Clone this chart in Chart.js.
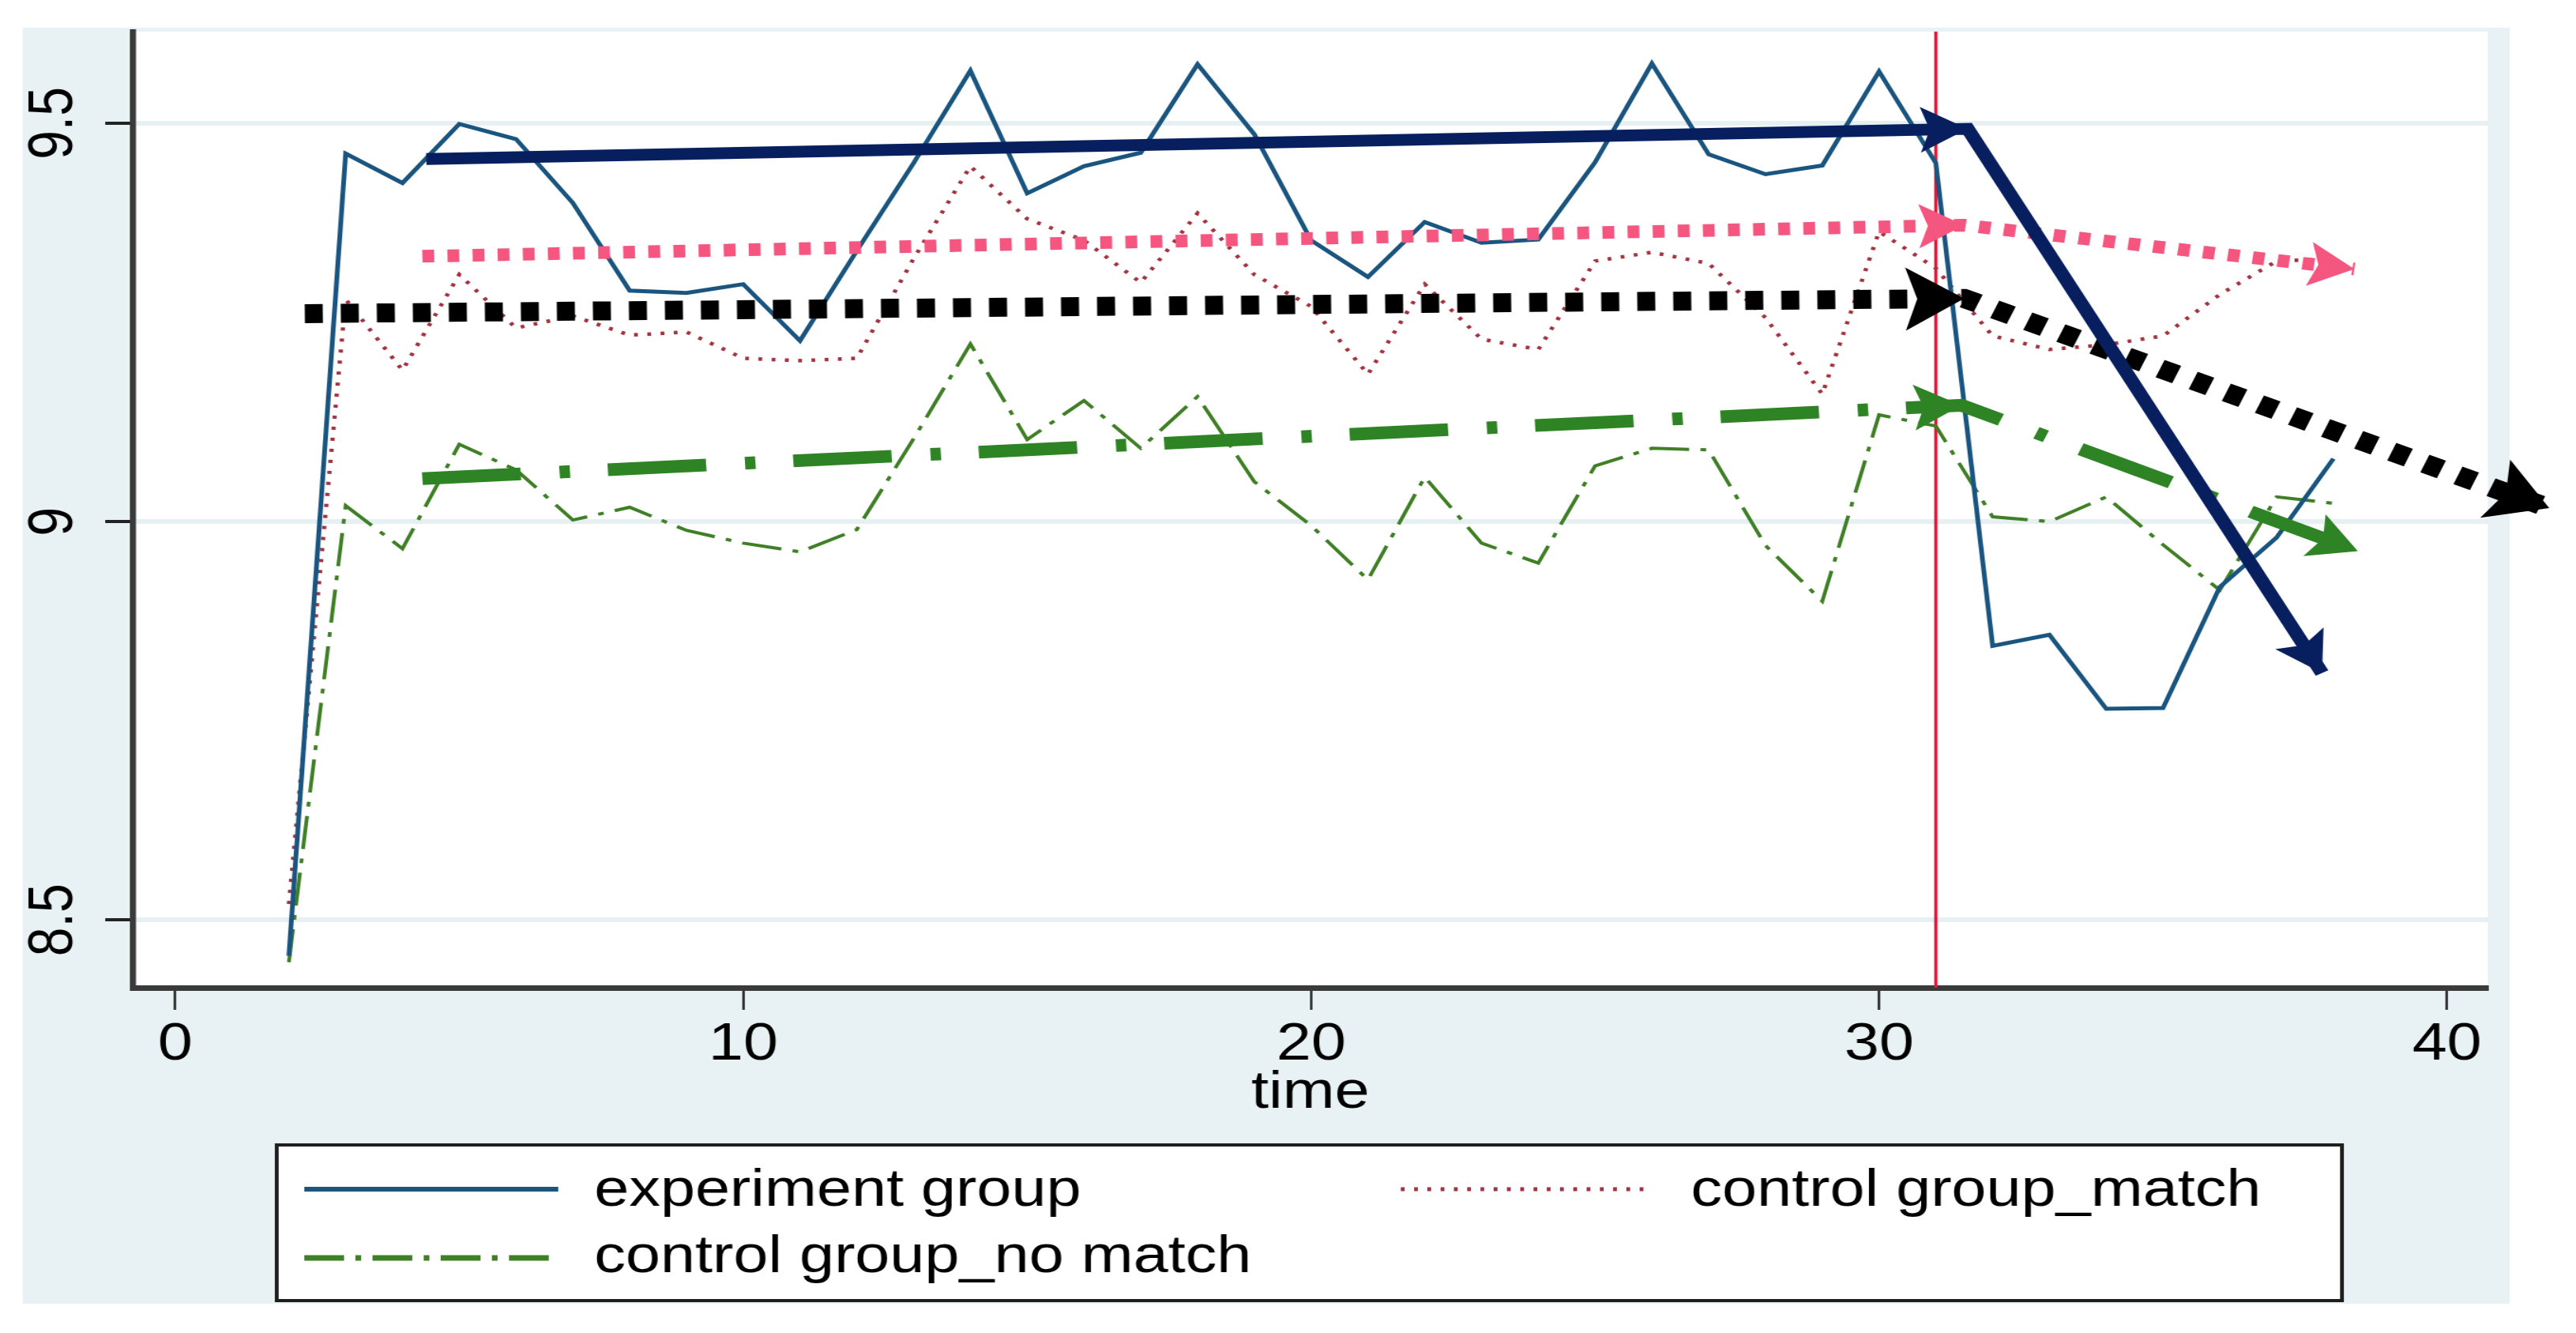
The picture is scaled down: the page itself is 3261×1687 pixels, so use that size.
<!DOCTYPE html>
<html>
<head>
<meta charset="utf-8">
<title>experiment group vs control groups over time</title>
<script src="https://cdn.jsdelivr.net/npm/chart.js@4.4.1/dist/chart.umd.min.js"></script>
<style>
  html, body { margin: 0; padding: 0; background: #fff; overflow: hidden; }
  /* the source picture is stretched ~1.2x sideways, so the canvas is drawn narrow and stretched too */
  #chart { display: block; width: 3261px !important; height: 1687px !important; }
</style>
</head>
<body>
<canvas id="chart" width="2718" height="1687"></canvas>
<script>
// ---------- Data ----------
const time = [2, 3, 4, 5, 6, 7, 8, 9, 10, 11, 12, 13, 14, 15, 16, 17, 18, 19, 20,
  21, 22, 23, 24, 25, 26, 27, 28, 29, 30, 31, 32, 33, 34, 35, 36, 37, 38];

const experimentGroup = [8.455, 9.462, 9.425, 9.499, 9.48, 9.40, 9.29, 9.287, 9.298, 9.227,
  9.34, 9.45, 9.566, 9.412, 9.446, 9.463, 9.574, 9.486, 9.353, 9.307, 9.376, 9.35, 9.354,
  9.451, 9.575, 9.461, 9.436, 9.447, 9.565, 9.45, 8.844, 8.858, 8.765, 8.766, 8.918, 8.98, 9.079];

const controlMatch = [8.52, 9.279, 9.19, 9.31, 9.243, 9.258, 9.234, 9.238, 9.205, 9.202,
  9.205, 9.33, 9.446, 9.38, 9.353, 9.30, 9.387, 9.31, 9.27, 9.185, 9.298, 9.229, 9.216,
  9.327, 9.338, 9.324, 9.256, 9.16, 9.364, 9.318, 9.233, 9.216, 9.222, 9.233, 9.285, 9.327, 9.33];

const controlNoMatch = [8.447, 9.02, 8.966, 9.097, 9.065, 9.002, 9.018, 8.989, 8.973, 8.962,
  8.99, 9.104, 9.223, 9.103, 9.152, 9.092, 9.157, 9.05, 8.995, 8.927, 9.056, 8.973, 8.948,
  9.07, 9.092, 9.09, 8.97, 8.90, 9.134, 9.12, 9.006, 9.0, 9.031, 8.971, 8.914, 9.031, 9.023];

// hand-drawn trend arrows: start, break at the cut-off, end
const trendExperimentX = [4.42, 31.56, 37.8];
const trendExperimentY = [9.455, 9.493, 8.81];
const trendMatchX = [4.35, 31.5, 38.37];
const trendMatchY = [9.333, 9.372, 9.317];
const trendAllX = [2.28, 31.5, 41.8];
const trendAllY = [9.261, 9.28, 9.017];
const trendNoMatchX = [4.35, 31.45, 38.43];
const trendNoMatchY = [9.054, 9.146, 8.963];

const cutoffTime = 31;

const xTickValues = [0, 10, 20, 30, 40];
const yTickValues = [8.5, 9, 9.5];
const xRange = [-0.75, 40.72];
const yRange = [8.415, 9.615];

const legendLabels = ["experiment group", "control group_match", "control group_no match"];

// ---------- Style ----------
const FONT = '"Liberation Sans", Arial, Helvetica, sans-serif';
const color = {
  bg: "#e8f1f3",
  grid: "#e6f0f2",
  axis: "#3a3a3a",
  text: "#000000",
  experiment: "#1a5580",
  match: "#a33340",
  noMatch: "#3f7f26",
  cutoff: "#e8173a",
  arrowNavy: "#071f5f",
  arrowPink: "#f45680",
  arrowBlack: "#000000",
  arrowGreen: "#2e8324",
};
const noMatchDash = [42, 12, 6, 12];
const matchDash = [4, 10];

Chart.defaults.font.family = FONT;
Chart.defaults.color = color.text;

const pts = (xs, ys) => xs.map((x, i) => ({ x, y: ys[i] }));

// ---------- Plugins ----------
const backdrop = {
  id: "backdrop",
  beforeDraw(chart) {
    const { ctx, chartArea: a } = chart;
    ctx.save();
    ctx.fillStyle = "#ffffff";
    ctx.fillRect(0, 0, chart.width, chart.height);
    ctx.fillStyle = color.bg;
    ctx.fillRect(24, 35, 2624, 1615);
    ctx.fillStyle = "#ffffff";
    ctx.fillRect(a.left, a.top, a.right - a.left, a.bottom - a.top);
    ctx.restore();
  },
};

const arrowHeads = {
  id: "arrowHeads",
  afterDatasetsDraw(chart) {
    const ctx = chart.ctx;
    chart.data.datasets.forEach((ds, i) => {
      if (!ds.head) return;
      const p = chart.getDatasetMeta(i).data;
      ds.head.at.forEach((k) => {
        const a = p[k - 1], b = p[k];
        const len = Math.hypot(b.x - a.x, b.y - a.y);
        const ux = (b.x - a.x) / len, uy = (b.y - a.y) / len;
        const L = ds.head.length, W = ds.head.width / 2;
        ctx.save();
        ctx.fillStyle = ds.borderColor;
        ctx.beginPath();
        ctx.moveTo(b.x, b.y);
        ctx.lineTo(b.x - ux * L - uy * W, b.y - uy * L + ux * W);
        ctx.lineTo(b.x - ux * L * 0.8, b.y - uy * L * 0.8);
        ctx.lineTo(b.x - ux * L + uy * W, b.y - uy * L - ux * W);
        ctx.closePath();
        ctx.fill();
        ctx.restore();
      });
    });
  },
};

const extras = {
  id: "extras",
  afterDraw(chart) {
    const ctx = chart.ctx;
    const y = chart.scales.y;
    ctx.save();
    ctx.fillStyle = color.text;
    ctx.font = `66px ${FONT}`;
    ctx.textAlign = "center";
    ctx.textBaseline = "middle";
    // rotated y tick labels
    y.ticks.forEach((t) => {
      ctx.save();
      ctx.translate(57.5, y.getPixelForValue(t.value));
      ctx.rotate(-Math.PI / 2);
      ctx.fillText(String(t.value), 0, 0);
      ctx.restore();
    });

    // legend box
    ctx.fillStyle = "#ffffff";
    ctx.fillRect(292, 1447, 2179, 201);
    ctx.lineWidth = 4;
    ctx.strokeStyle = "#1e1e1e";
    ctx.strokeRect(292, 1449, 2179, 197);

    const sample = (x1, x2, yy, stroke, width, dash) => {
      ctx.beginPath();
      ctx.setLineDash(dash);
      ctx.lineCap = "butt";
      ctx.strokeStyle = stroke;
      ctx.lineWidth = width;
      ctx.moveTo(x1, yy);
      ctx.lineTo(x2, yy);
      ctx.stroke();
    };
    sample(321, 589, 1505, color.experiment, 6, []);
    sample(1478, 1741, 1505, color.match, 5, matchDash);
    sample(321, 589, 1592, color.noMatch, 7, noMatchDash);
    ctx.setLineDash([]);

    ctx.fillStyle = color.text;
    ctx.textAlign = "left";
    ctx.fillText(legendLabels[0], 627, 1508);
    ctx.fillText(legendLabels[1], 1784, 1508);
    ctx.fillText(legendLabels[2], 627, 1592);
    ctx.restore();
  },
};

// ---------- Chart ----------
const thin = { pointRadius: 0, tension: 0, fill: false, borderCapStyle: "butt" };

new Chart(document.getElementById("chart"), {
  type: "line",
  data: {
    datasets: [
      {
        ...thin,
        label: "cut-off",
        data: [{ x: cutoffTime, y: yRange[0] }, { x: cutoffTime, y: yRange[1] }],
        borderColor: color.cutoff,
        borderWidth: 3.5,
        order: 7,
      },
      {
        ...thin,
        label: legendLabels[2],
        data: pts(time, controlNoMatch),
        borderColor: color.noMatch,
        borderWidth: 4,
        borderDash: noMatchDash,
        order: 6,
      },
      {
        ...thin,
        label: legendLabels[1],
        data: pts(time, controlMatch),
        borderColor: color.match,
        borderWidth: 4.5,
        borderDash: matchDash,
        order: 5,
      },
      {
        ...thin,
        label: legendLabels[0],
        data: pts(time, experimentGroup),
        borderColor: color.experiment,
        borderWidth: 5,
        order: 4,
      },
      {
        ...thin,
        label: "trend no match",
        data: pts(trendNoMatchX, trendNoMatchY),
        borderColor: color.arrowGreen,
        borderWidth: 16,
        borderDash: [104, 41, 11, 40],
        head: { at: [1, 2], length: 50, width: 58 },
        clip: false,
        order: 3,
      },
      {
        ...thin,
        label: "trend all",
        data: pts(trendAllX, trendAllY),
        borderColor: color.arrowBlack,
        borderWidth: 24,
        borderDash: [19, 19],
        head: { at: [1, 2], length: 62, width: 80 },
        clip: false,
        order: 2,
      },
      {
        ...thin,
        label: "trend match",
        data: pts(trendMatchX, trendMatchY),
        borderColor: color.arrowPink,
        borderWidth: 16,
        borderDash: [12.5, 14],
        head: { at: [1, 2], length: 48, width: 56 },
        clip: false,
        order: 1,
      },
      {
        ...thin,
        label: "trend experiment",
        data: pts(trendExperimentX, trendExperimentY),
        borderColor: color.arrowNavy,
        borderWidth: 15,
        head: { at: [1, 2], length: 50, width: 58 },
        clip: false,
        order: 0,
      },
    ],
  },
  options: {
    responsive: false,
    animation: false,
    devicePixelRatio: 1,
    events: [],
    layout: { padding: { left: 110, right: 93, top: 40, bottom: 237 } },
    plugins: { legend: { display: false }, tooltip: { enabled: false } },
    scales: {
      x: {
        type: "linear",
        min: xRange[0],
        max: xRange[1],
        afterBuildTicks: (s) => { s.ticks = xTickValues.map((v) => ({ value: v })); },
        afterFit: (s) => { s.height = 200; },
        grid: {
          drawOnChartArea: false,
          drawTicks: true,
          tickLength: 28,
          tickWidth: 2.5,
          tickColor: "#222222",
        },
        border: { display: true, color: color.axis, width: 7 },
        ticks: {
          font: { size: 66 },
          color: color.text,
          padding: 5,
          maxRotation: 0,
          autoSkip: false,
          callback: (v) => String(v),
        },
        title: {
          display: true,
          text: "time",
          font: { size: 66 },
          color: color.text,
          padding: { top: 0, bottom: 27 },
        },
      },
      y: {
        type: "linear",
        min: yRange[0],
        max: yRange[1],
        afterBuildTicks: (s) => { s.ticks = yTickValues.map((v) => ({ value: v })); },
        afterFit: (s) => { s.width = 30; },
        grid: {
          color: color.grid,
          lineWidth: 6,
          drawTicks: true,
          tickLength: 29,
          tickWidth: 4,
          tickColor: "#222222",
        },
        border: { display: true, color: color.axis, width: 6.5 },
        ticks: { display: false },
      },
    },
  },
  plugins: [backdrop, arrowHeads, extras],
});
</script>
</body>
</html>
